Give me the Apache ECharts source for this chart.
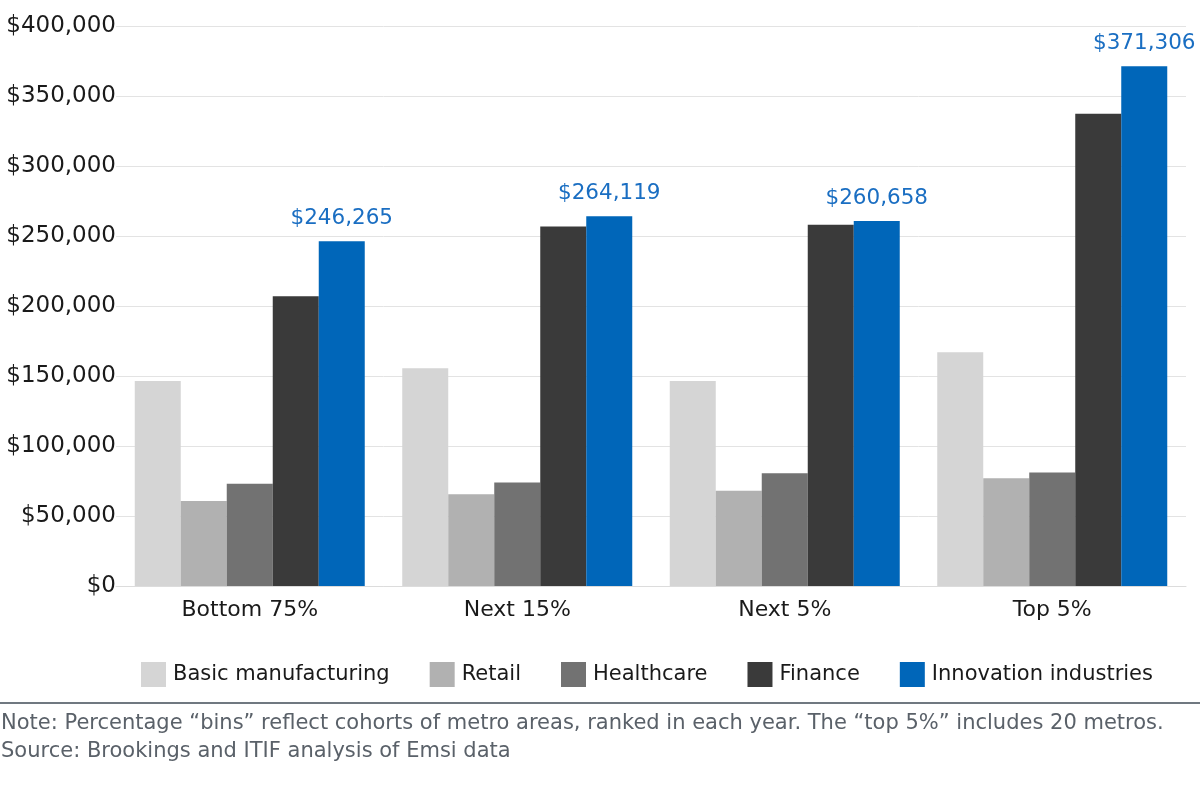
<!DOCTYPE html>
<html><head><meta charset="utf-8">
<script src="https://cdn.jsdelivr.net/npm/echarts@6/dist/echarts.min.js"></script>
<style>html,body{margin:0;padding:0;background:#fff}#c{width:1200px;height:786px}</style>
</head><body><div id="c"></div>
<script>
const categories = ['Bottom 75%', 'Next 15%', 'Next 5%', 'Top 5%'];
const seriesNames = ['Basic manufacturing', 'Retail', 'Healthcare', 'Finance', 'Innovation industries'];
const basicManufacturing = [146400, 155500, 146400, 167000];
const retail = [60700, 65500, 68000, 77000];
const healthcare = [73000, 74000, 80500, 81000];
const finance = [207000, 256700, 258000, 337400];
const innovation = [246265, 264119, 260658, 371306];
const yTicks = [0, 50000, 100000, 150000, 200000, 250000, 300000, 350000, 400000];
const noteLines = [
  'Note: Percentage \u201cbins\u201d reflect cohorts of metro areas, ranked in each year. The \u201ctop 5%\u201d includes 20 metros.',
  'Source: Brookings and ITIF analysis of Emsi data'
];

const colors = ['#d5d5d5', '#b1b1b1', '#727272', '#3a3a3a', '#0066b9'];
const FONT = 'DejaVu Sans';
const fmt = v => '$' + Number(v).toLocaleString('en-US');
const dataSets = [basicManufacturing, retail, healthcare, finance, innovation];

const chart = echarts.init(document.getElementById('c'));
chart.setOption({
  animation: false,
  color: colors,
  textStyle: { fontFamily: FONT },
  grid: { left: 116, right: 14, top: 26, bottom: 200 },
  xAxis: {
    type: 'category', data: categories,
    axisLine: { lineStyle: { color: '#dcdcdc', width: 1 } },
    axisTick: { show: false },
    axisLabel: { color: '#1a1a1a', fontSize: 22, margin: 13, fontFamily: FONT }
  },
  yAxis: {
    type: 'value', min: yTicks[0], max: yTicks[yTicks.length - 1], interval: 50000,
    axisLine: { show: false }, axisTick: { show: false },
    splitLine: { lineStyle: { color: '#e3e3e3', width: 1 } },
    axisLabel: { color: '#1a1a1a', fontSize: 23, margin: 0, formatter: fmt, fontFamily: FONT }
  },
  legend: {
    data: seriesNames, left: 141, top: 662, padding: 0, itemWidth: 25, itemHeight: 25, itemGap: 40,
    icon: 'rect',
    textStyle: { color: '#1a1a1a', fontSize: 21, fontFamily: FONT, padding: [0, 0, 0, 2] }
  },
  series: seriesNames.map((name, i) => ({
    name, type: 'bar', data: dataSets[i], barWidth: 46, barGap: '0%',
    itemStyle: { color: colors[i] },
    label: i === 4 ? { show: true, position: 'top', distance: 12, color: '#1a6ec2', fontSize: 21.5, fontFamily: FONT, formatter: p => fmt(p.value) } : { show: false }
  })),
  graphic: [
    { type: 'rect', left: 0, top: 702, shape: { width: 1200, height: 2 }, style: { fill: '#707880' } },
    { type: 'text', left: 1, top: 713, style: { text: noteLines[0], fill: '#5a6169', font: '21px "' + FONT + '"' } },
    { type: 'text', left: 1, top: 741, style: { text: noteLines[1], fill: '#5a6169', font: '21px "' + FONT + '"' } }
  ]
});
</script></body></html>
